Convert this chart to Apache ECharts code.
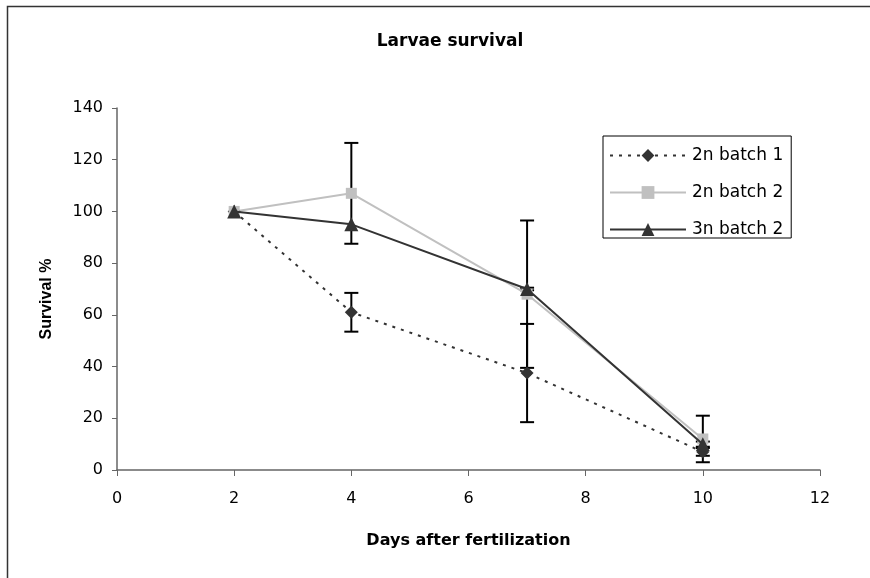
<!DOCTYPE html>
<html>
<head>
<meta charset="utf-8">
<script src="https://cdn.jsdelivr.net/npm/echarts@6/dist/echarts.min.js"></script>
<style>
html, body { margin: 0; padding: 0; background: #fff; }
#main { width: 870px; height: 578px; }
</style>
</head>
<body>
<div id="main"></div>
<script>
// days after fertilization
var days = [2, 4, 7, 10];
// survival %
var batch1_2n = [100, 61, 37.5, 7];
var batch1_2n_err = [0, 7.5, 19, 1.5];
var batch2_2n = [100, 107, 68, 12];
var batch2_2n_err = [0, 19.5, 28.5, 9];
var batch2_3n = [100, 95, 70, 10];
var batch2_3n_err = [0, 0, 0.5, 1];

// the picture is a bit wide, DejaVu matches the width of horizontal text
var FONT = 'DejaVu Sans, sans-serif';
var FONT_V = 'Liberation Sans, Arial, sans-serif';

function pts(ys) {
	return days.map(function (d, i) { return [d, ys[i]]; });
}
function bars(ys, es) {
	var out = [];
	days.forEach(function (d, i) {
		if (es[i] > 0) out.push([d, ys[i] - es[i], ys[i] + es[i]]);
	});
	return out;
}
/*error bars drawn by a custom series*/
function errorSeries(ys, es) {
	return {
		type: 'custom',
		z: 1,
		silent: true,
		data: bars(ys, es),
		encode: { x: 0, y: [1, 2] },
		renderItem: function (params, api) {
			var lo = api.coord([api.value(0), api.value(1)]);
			var hi = api.coord([api.value(0), api.value(2)]);
			var w = 7;
			var st = { stroke: '#000', lineWidth: 2 };
			return {
				type: 'group',
				children: [
					{ type: 'line', shape: { x1: lo[0], y1: lo[1], x2: hi[0], y2: hi[1] }, style: st },
					{ type: 'line', shape: { x1: lo[0] - w, y1: lo[1], x2: lo[0] + w, y2: lo[1] }, style: st },
					{ type: 'line', shape: { x1: hi[0] - w, y1: hi[1], x2: hi[0] + w, y2: hi[1] }, style: st }
				]
			};
		}
	};
}

var chart = echarts.init(document.getElementById('main'));
chart.setOption({
	animation: false,
	backgroundColor: '#fff',
	title: {
		text: 'Larvae survival',
		left: 445,
		textAlign: 'center',
		top: 28,
		textStyle: { fontFamily: FONT, fontSize: 17, fontWeight: 'bold', color: '#000' }
	},
	graphic: [{
		type: 'rect',
		shape: { x: 7.5, y: 6.5, width: 1000, height: 1000 },
		style: { fill: null, stroke: '#333', lineWidth: 1.5 },
		silent: true
	}],
	legend: {
		orient: 'vertical',
		left: 603,
		top: 136,
		itemWidth: 76,
		itemHeight: 16,
		itemGap: 20,
		padding: [11, 8, 0, 6],
		borderColor: '#000',
		borderWidth: 1,
		textStyle: { fontFamily: FONT, fontSize: 17, lineHeight: 16, color: '#000', padding: [0, 0, 0, 1] },
		data: ['2n batch 1', '2n batch 2', '3n batch 2']
	},
	grid: { left: 117, right: 50, top: 108, bottom: 108 },
	xAxis: {
		type: 'value',
		min: 0, max: 12, interval: 2,
		name: 'Days after fertilization',
		nameLocation: 'middle',
		nameGap: 63,
		nameTextStyle: { fontFamily: FONT, fontSize: 16, fontWeight: 'bold', color: '#000' },
		axisLine: { lineStyle: { color: '#666', width: 1.5 } },
		axisTick: { show: true, length: 6, lineStyle: { color: '#666' } },
		axisLabel: { fontFamily: FONT, fontSize: 16, color: '#000', margin: 21 },
		splitLine: { show: false }
	},
	yAxis: {
		type: 'value',
		min: 0, max: 140, interval: 20,
		name: 'Survival %',
		nameLocation: 'middle',
		nameGap: 62,
		nameTextStyle: { fontFamily: FONT_V, fontSize: 16, fontWeight: 'bold', color: '#000', padding: [0, 20, 0, 0] },
		axisLine: { show: true, lineStyle: { color: '#666', width: 1.5 } },
		axisTick: { show: true, length: 5, lineStyle: { color: '#666' } },
		axisLabel: { fontFamily: FONT, fontSize: 16, color: '#000', margin: 14 },
		splitLine: { show: false }
	},
	series: [
		errorSeries(batch1_2n, batch1_2n_err),
		errorSeries(batch2_2n, batch2_2n_err),
		errorSeries(batch2_3n, batch2_3n_err),
		{
			name: '2n batch 1',
			type: 'line',
			z: 3,
			data: pts(batch1_2n),
			symbol: 'diamond',
			symbolSize: 13,
			itemStyle: { color: '#333' },
			lineStyle: { color: '#333', width: 2, type: [3, 6] }
		},
		{
			name: '2n batch 2',
			type: 'line',
			z: 3,
			data: pts(batch2_2n),
			symbol: 'rect',
			symbolSize: 11,
			itemStyle: { color: '#c0c0c0' },
			lineStyle: { color: '#c0c0c0', width: 2 }
		},
		{
			name: '3n batch 2',
			type: 'line',
			z: 4,
			data: pts(batch2_3n),
			symbol: 'triangle',
			symbolSize: 14,
			itemStyle: { color: '#333' },
			lineStyle: { color: '#333', width: 2 }
		}
	]
});
</script>
</body>
</html>
